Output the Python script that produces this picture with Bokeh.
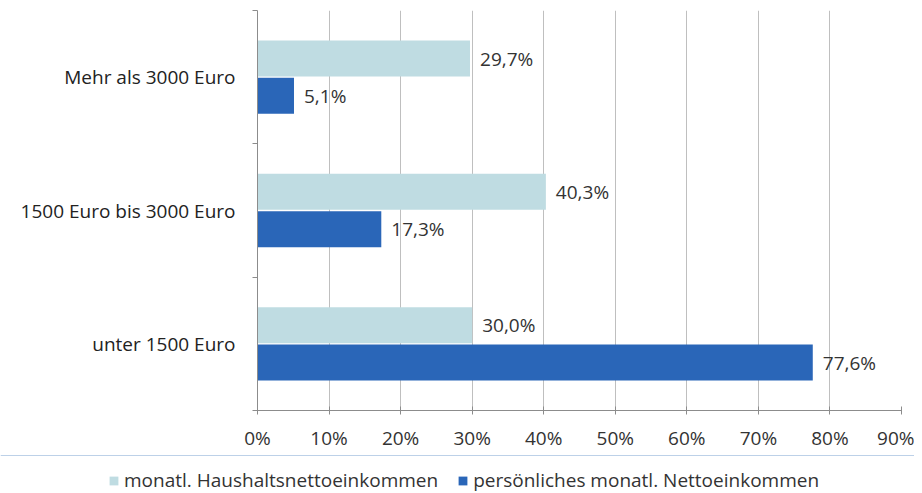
from bokeh.plotting import figure
from bokeh.layouts import column
from bokeh.models import FixedTicker, PrintfTickFormatter, Legend, LegendItem, ColumnDataSource
from bokeh.core.properties import value
from bokeh.embed import file_html
from bokeh.resources import INLINE
import numpy as np

categories = ["unter 1500 Euro", "1500 Euro bis 3000 Euro", "Mehr als 3000 Euro"]
haushalt = [30.0, 40.3, 29.7]
persoenlich = [77.6, 17.3, 5.1]
x_ticks = [0, 10, 20, 30, 40, 50, 60, 70, 80, 90]
series_names = ["monatl. Haushaltsnettoeinkommen", "persönliches monatl. Nettoeinkommen"]

FONT = "Open Sans"
FS = "19px"
LIGHT = "#bfdce2"
DARK = "#2a66b8"

idx = np.arange(len(categories)) + 0.5
off = 0.14
h = 0.27

def fmt(v):
    return f"{v:.1f}".replace(".", ",") + "%"

src_l = ColumnDataSource(dict(y=idx + off, x=haushalt, lab=[fmt(v) for v in haushalt]))
src_d = ColumnDataSource(dict(y=idx - off, x=persoenlich, lab=[fmt(v) for v in persoenlich]))

p = figure(frame_width=644, frame_height=400, x_range=(0, 90), y_range=(0, 3),
           output_backend="svg", toolbar_location=None,
           min_border_left=257, min_border_right=13, min_border_top=10, min_border_bottom=45)
p.outline_line_color = None
p.background_fill_color = "white"

p.hbar(y="y", right="x", left=0, height=h, source=src_l, color=LIGHT, line_color=None)
p.hbar(y="y", right="x", left=0, height=h, source=src_d, color=DARK, line_color=None)

for s in (src_l, src_d):
    p.text(x="x", y="y", text="lab", source=s, x_offset=10, text_baseline="middle",
           text_font=value(FONT), text_font_size="19px", text_color="#333333")

p.xaxis.ticker = FixedTicker(ticks=x_ticks)
p.xaxis.formatter = PrintfTickFormatter(format="%d%%")
p.xaxis.major_label_text_font = FONT
p.xaxis.major_label_text_font_size = FS
p.xaxis.major_label_text_color = "#333333"
p.xaxis.axis_line_color = "#8c8c8c"
p.xaxis.major_tick_line_color = "#8c8c8c"
p.xaxis.major_tick_in = 4
p.xaxis.major_tick_out = 4
p.xaxis.minor_tick_line_color = None
p.xaxis.major_label_standoff = 10

p.yaxis.ticker = FixedTicker(ticks=list(idx), minor_ticks=[0, 1, 2, 3])
p.yaxis.major_label_overrides = {float(i): c for i, c in zip(idx, categories)}
p.yaxis.major_label_text_font = FONT
p.yaxis.major_label_text_font_size = FS
p.yaxis.major_label_text_color = "#222222"
p.yaxis.axis_line_color = "#8c8c8c"
p.yaxis.major_tick_line_color = None
p.yaxis.minor_tick_line_color = "#8c8c8c"
p.yaxis.minor_tick_in = 0
p.yaxis.minor_tick_out = 5
p.yaxis.major_label_standoff = 16

p.xgrid.ticker = FixedTicker(ticks=x_ticks[1:])
p.xgrid.grid_line_color = "#bfbfbf"
p.ygrid.grid_line_color = None

# legend strip below the chart
lg = figure(width=914, height=38, x_range=(0, 1), y_range=(0, 1),
            output_backend="svg", toolbar_location=None,
            x_axis_type=None, y_axis_type=None, min_border=0)
lg.outline_line_color = None
lg.xgrid.visible = False
lg.ygrid.visible = False
for fig in (p, lg):
    if "frame_align" in fig.properties():
        fig.frame_align = False
# legend-only renderers, their single bar lies outside the visible range
e1 = lg.hbar(y=[5], right=[1], left=0, height=1, color=LIGHT, line_color=None)
e2 = lg.hbar(y=[5], right=[1], left=0, height=1, color=DARK, line_color=None)
legend = Legend(items=[LegendItem(label=series_names[0], renderers=[e1]),
                       LegendItem(label=series_names[1], renderers=[e2])],
                orientation="horizontal", location=(108, 0),
                label_text_font=FONT, label_text_font_size=FS, label_text_color="#333333",
                glyph_width=11, glyph_height=11, spacing=19, padding=0, margin=0,
                border_line_color=None, background_fill_alpha=0, label_standoff=5)
lg.add_layout(legend, "center")

layout = column(p, lg, spacing=0)
open("out.html", "w").write(file_html(layout, INLINE))
